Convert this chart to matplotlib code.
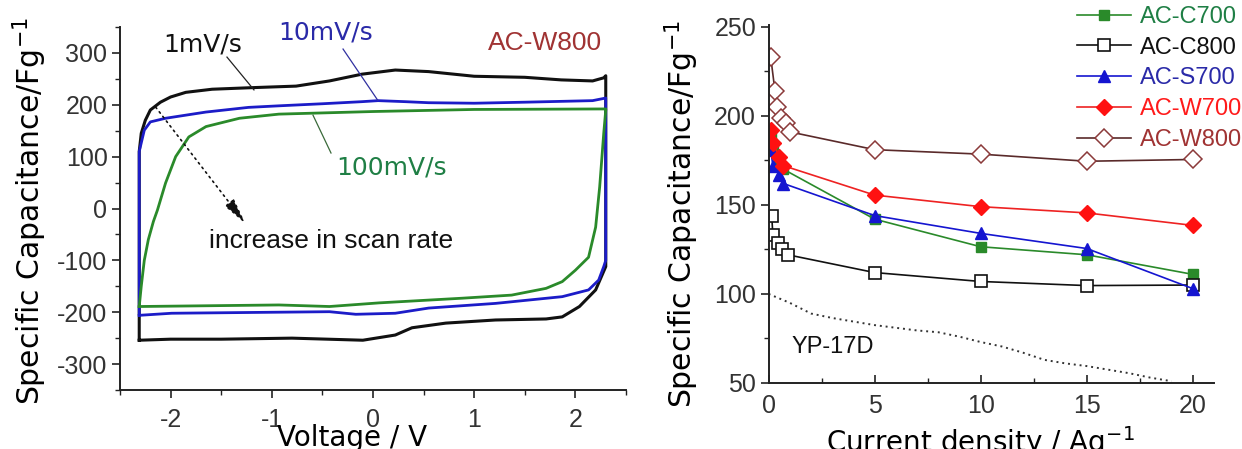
import matplotlib
matplotlib.use('Agg')
import matplotlib.pyplot as plt
from matplotlib.ticker import MultipleLocator

plt.rcParams['font.family'] = ['Liberation Sans', 'DejaVu Sans']
plt.rcParams['axes.unicode_minus'] = False

# ---- left panel: CV loops (voltage / V, capacitance / F g-1) ----
v_1mv = [-2.31, -2.31, -2.29, -2.25, -2.2, -2.1, -2.0, -1.85, -1.59, -1.2, -0.76, -0.43,
         -0.11, 0.22, 0.55, 1.0, 1.5, 1.86, 2.17, 2.28, 2.3, 2.3, 2.2, 2.04, 1.87, 1.71,
         1.21, 0.72, 0.385, 0.22, -0.1, -0.8, -1.5, -2.0, -2.31]
c_1mv = [-254, 110, 145, 170, 190, 205, 215, 224, 230, 233, 236, 246,
         259, 267, 264, 255, 253, 248, 246, 252, 256, -112, -157, -189, -209, -213,
         -215, -221, -230, -244, -254, -250, -252, -252, -254]

v_10mv = [-2.31, -2.31, -2.26, -2.2, -2.05, -1.65, -1.23, -0.93, -0.5, -0.11, 0.05, 0.32,
          0.55, 1.0, 1.5, 2.17, 2.3, 2.3, 2.28, 2.23, 2.13, 1.87, 1.21, 0.55, 0.22,
          -0.17, -0.43, -1.99, -2.31]
c_10mv = [-206, 110, 151, 167, 174, 186, 195, 198, 202, 206, 208, 206,
          204, 203, 205, 208, 213, -100, -112, -138, -157, -170, -183, -192, -202,
          -204, -199, -202, -206]

v_100mv = [-2.31, -2.29, -2.26, -2.22, -2.17, -2.13, -2.05, -1.95, -1.82, -1.65, -1.32,
           -0.93, 0.0, 1.0, 2.3, 2.3, 2.28, 2.24, 2.2, 2.13, 2.0, 1.87, 1.71, 1.37, 0.88,
           0.06, -0.43, -0.93, -2.31]
c_100mv = [-189, -150, -100, -60, -25, -3, 49, 100, 138, 158, 174,
           182, 187, 191, 192, 190, 145, 42, -36, -94, -119, -141, -154, -167, -173,
           -182, -189, -186, -189]

# ---- right panel: rate capability ----
x_700 = [0.1, 0.2, 0.5, 0.7, 5, 10, 15, 20]
ac_c700 = [188, 181, 174, 170, 142, 126.5, 122, 111]
ac_s700 = [181, 172, 167, 162, 144, 134, 125.5, 103]
ac_w700 = [192, 185, 177, 172, 155.5, 149, 145.5, 138.5]
x_c800 = [0.15, 0.2, 0.45, 0.65, 0.9, 5, 10, 15, 20]
ac_c800 = [143.5, 133, 128.5, 125, 122, 112, 107, 104.7, 105]
x_w800 = [0.1, 0.3, 0.4, 0.6, 0.8, 1.0, 5, 10, 15, 20]
ac_w800 = [233, 214, 205, 199, 196, 191, 181, 178.5, 174.5, 175.5]
x_yp = [0, 1, 2, 3, 4, 5, 6, 7, 8, 9, 10, 11, 12, 13, 14, 15, 16, 17, 18, 19]
yp_17d = [100, 95, 89, 86.5, 84.5, 82.5, 81, 79.5, 78.5, 76, 73, 70.5, 67, 63, 61,
          59.5, 57.5, 55.5, 53, 51]

fig = plt.figure(figsize=(12.42, 4.49), dpi=100)
ax1 = fig.add_axes([120/1242, 1-390/449, 506/1242, 363/449])
ax2 = fig.add_axes([768.6/1242, 1-383/449, 445.4/1242, 358/449])

label_font = dict(family='DejaVu Sans')

# left
ax1.plot(v_1mv, c_1mv, color='#111111', lw=2.2)
ax1.plot(v_10mv, c_10mv, color='#1c1cc8', lw=2)
ax1.plot(v_100mv, c_100mv, color='#2a8a2a', lw=2)
ax1.set_xlim(-2.5, 2.5)
ax1.set_ylim(-350, 350)
ax1.xaxis.set_major_locator(MultipleLocator(1))
ax1.xaxis.set_minor_locator(MultipleLocator(0.5))
ax1.yaxis.set_major_locator(MultipleLocator(100))
ax1.yaxis.set_minor_locator(MultipleLocator(50))
ax1.set_xlabel('Voltage / V', fontsize=20, **label_font)
ax1.xaxis.set_label_coords(0.4585, -0.094)
ax1.set_ylabel('Specific Capacitance/Fg$^{-1}$', fontsize=21.5, va='center', **label_font)
ax1.yaxis.set_label_coords(-0.178, 0.492)

ax1.text(-1.685, 302, '1mV/s', fontsize=18, ha='center', va='baseline', color='#111111', **label_font)
ax1.text(-0.464, 325, '10mV/s', fontsize=18, ha='center', va='baseline', color='#2a2aa8', **label_font)
ax1.text(0.183, 66.5, '100mV/s', fontsize=18, ha='center', va='baseline', color='#1f7f45', **label_font)
ax1.text(1.695, 305.6, 'AC-W800', fontsize=19, ha='center', va='baseline', color='#a03333')
ax1.text(-0.415, -76, 'increase in scan rate', fontsize=19, ha='center', va='baseline', color='#111111')
ax1.plot([-1.443, -1.176], [292, 228.7], color='#222222', lw=0.9)
ax1.plot([-0.296, 0.046], [307.5, 209], color='#3030a0', lw=0.9)
ax1.plot([-0.415, -0.593], [107, 180], color='#3a6a3a', lw=0.9)
ax1.annotate('', xy=(-1.242, -33.7), xytext=(-2.164, 199.6),
             arrowprops=dict(arrowstyle='-|>,head_length=1.6,head_width=0.35',
                             ls=(0, (1, 2.5)), lw=1.2, color='#111111'))

# right
ax2.plot(x_yp, yp_17d, color='#333333', ls=(0, (1, 2)), lw=1.4)
ax2.plot(x_700, ac_c700, color='#2a8a2a', lw=1.2, marker='s', ms=7,
         mfc='#2a8a2a', mec='#2a8a2a', label='AC-C700')
ax2.plot(x_c800, ac_c800, color='#111111', lw=1.2, marker='s', ms=8,
         mfc='white', mec='#111111', mew=1.2, label='AC-C800')
ax2.plot(x_700, ac_s700, color='#1515d0', lw=1.2, marker='^', ms=8.5,
         mfc='#1515d0', mec='#1515d0', label='AC-S700')
ax2.plot(x_700, ac_w700, color='#ee2222', lw=1.2, marker='D', ms=8.5,
         mfc='#ff1111', mec='#ff1111', label='AC-W700')
ax2.plot(x_w800, ac_w800, color='#5a2a2a', lw=1.2, marker='D', ms=9,
         mfc='white', mec='#8b3a3a', mew=1.1, label='AC-W800')
ax2.set_xlim(0, 21)
ax2.set_ylim(50, 251)
ax2.xaxis.set_major_locator(MultipleLocator(5))
ax2.xaxis.set_minor_locator(MultipleLocator(2.5))
ax2.yaxis.set_major_locator(MultipleLocator(50))
ax2.yaxis.set_minor_locator(MultipleLocator(25))
ax2.set_xlabel('Current density / Ag$^{-1}$', fontsize=20, **label_font)
ax2.xaxis.set_label_coords(0.4746, -0.1145)
ax2.set_ylabel('Specific Capacitance/Fg$^{-1}$', fontsize=21.5, va='center', **label_font)
ax2.yaxis.set_label_coords(-0.1956, 0.472)
ax2.text(3.04, 66.9, 'YP-17D', fontsize=17, ha='center', va='baseline', color='#111111')

leg = ax2.legend(loc='upper left', bbox_to_anchor=(1077/1242, 1 - 6/449),
                 bbox_transform=fig.transFigure, frameon=False, fontsize=17,
                 handlelength=2.3, handletextpad=0.35, labelspacing=0.37,
                 borderpad=0, borderaxespad=0)
leg_colors = ['#1f7f45', '#111111', '#2a2aa8', '#ff1a1a', '#a03333']
for txt, col in zip(leg.get_texts(), leg_colors):
    txt.set_color(col)

for ax in (ax1, ax2):
    for side in ('top', 'right'):
        ax.spines[side].set_visible(False)
    for side in ('left', 'bottom'):
        ax.spines[side].set_linewidth(1.4)
        ax.spines[side].set_color('#222222')
    ax.tick_params(which='both', labelsize=18, labelcolor='#333333', color='#222222')
    ax.tick_params(which='major', length=6, width=1.2)
    ax.tick_params(which='minor', length=3.5, width=1.0)
    ax.tick_params(axis='y', which='both', direction='out', pad=3)

ax1.tick_params(axis='x', which='both', direction='out', pad=7)
ax2.tick_params(axis='x', which='both', direction='in', pad=8)

fig.savefig('out.png', dpi=100)
